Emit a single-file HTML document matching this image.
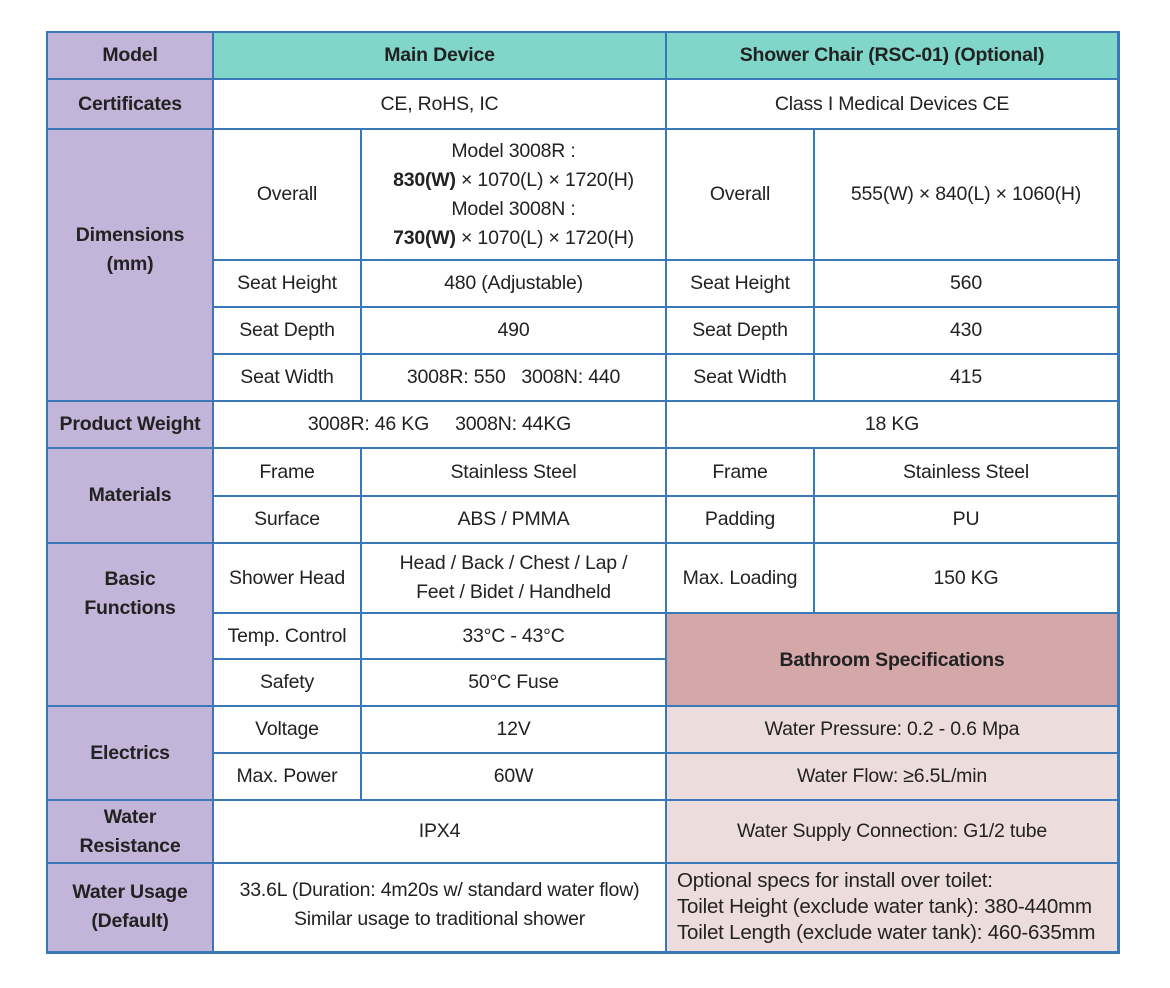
<!DOCTYPE html>
<html><head><meta charset="utf-8"><style>
body{margin:0;background:#fff;width:1170px;height:988px;position:relative;font-family:"Liberation Sans",sans-serif;color:#222}
#t{position:absolute;left:46px;top:31px;width:1074px;height:923px;background:#3b78b8}
.c{position:absolute;display:flex;align-items:center;justify-content:center;text-align:center;font-size:19.5px;line-height:29px;box-sizing:border-box;background:#fff;letter-spacing:-0.2px}
.b{font-weight:bold}
.p{background:#c3b5d9}
.g{background:#80d6c8}
.r{background:#d4a7a8}
.l{background:#eddcdc}
</style></head><body>
<div id="t"></div>
<script>
const X=[47,213,361,666,814,1118];
const cells=[
[0,1,32,79,'p b','Model'],[1,3,32,79,'g b','Main Device'],[3,5,32,79,'g b','Shower Chair (RSC-01) (Optional)'],
[0,1,79,129,'p b','Certificates'],[1,3,79,129,'','CE, RoHS, IC'],[3,5,79,129,'','Class I Medical Devices CE'],
[0,1,129,401,'p b','<div style="margin-top:-30px">Dimensions<br>(mm)</div>'],
[1,2,129,260,'','Overall'],[2,3,129,260,'','Model 3008R :<br><b>830(W)</b> × 1070(L) × 1720(H)<br>Model 3008N :<br><b>730(W)</b> × 1070(L) × 1720(H)'],
[3,4,129,260,'','Overall'],[4,5,129,260,'','555(W) × 840(L) × 1060(H)'],
[1,2,260,307,'','Seat Height'],[2,3,260,307,'','480 (Adjustable)'],[3,4,260,307,'','Seat Height'],[4,5,260,307,'','560'],
[1,2,307,354,'','Seat Depth'],[2,3,307,354,'','490'],[3,4,307,354,'','Seat Depth'],[4,5,307,354,'','430'],
[1,2,354,401,'','Seat Width'],[2,3,354,401,'','3008R: 550&nbsp;&nbsp; 3008N: 440'],[3,4,354,401,'','Seat Width'],[4,5,354,401,'','415'],
[0,1,401,448,'p b','Product Weight'],[1,3,401,448,'','3008R: 46 KG&nbsp;&nbsp;&nbsp;&nbsp; 3008N: 44KG'],[3,5,401,448,'','18 KG'],
[0,1,448,543,'p b','Materials'],
[1,2,448,496,'','Frame'],[2,3,448,496,'','Stainless Steel'],[3,4,448,496,'','Frame'],[4,5,448,496,'','Stainless Steel'],
[1,2,496,543,'','Surface'],[2,3,496,543,'','ABS / PMMA'],[3,4,496,543,'','Padding'],[4,5,496,543,'','PU'],
[0,1,543,706,'p b','<div style="margin-top:-62px">Basic<br>Functions</div>'],
[1,2,543,613,'','Shower Head'],[2,3,543,613,'','Head / Back / Chest / Lap /<br>Feet / Bidet / Handheld'],[3,4,543,613,'','Max. Loading'],[4,5,543,613,'','150 KG'],
[1,2,613,659,'','Temp. Control'],[2,3,613,659,'','33°C - 43°C'],[3,5,613,706,'r b','<div style="margin-top:2px">Bathroom Specifications</div>'],
[1,2,659,706,'','Safety'],[2,3,659,706,'','50°C Fuse'],
[0,1,706,800,'p b','Electrics'],
[1,2,706,753,'','Voltage'],[2,3,706,753,'','12V'],[3,5,706,753,'l','Water Pressure: 0.2 - 0.6 Mpa'],
[1,2,753,800,'','Max. Power'],[2,3,753,800,'','60W'],[3,5,753,800,'l','Water Flow: ≥6.5L/min'],
[0,1,800,863,'p b','Water<br>Resistance'],[1,3,800,863,'','IPX4'],[3,5,800,863,'l','Water Supply Connection: G1/2 tube'],
[0,1,863,952,'p b','<div style="margin-top:-2px">Water Usage<br>(Default)</div>'],[1,3,863,952,'','<div style="margin-top:-6px">33.6L (Duration: 4m20s w/ standard water flow)<br>Similar usage to traditional shower</div>'],
[3,5,863,952,'l','<div style="text-align:left;width:100%;padding-left:10px;line-height:26px;margin-top:-2px;font-size:20.5px">Optional specs for install over toilet:<br>Toilet Height (exclude water tank): 380-440mm<br>Toilet Length (exclude water tank): 460-635mm</div>']
];
let h='';
for(const [a,b,y1,y2,cls,txt] of cells){
 const x1=X[a]+1,x2=X[b]-1;
 h+=`<div class="c ${cls}" style="left:${x1}px;top:${y1+1}px;width:${x2-x1}px;height:${y2-y1-2}px">${txt.startsWith('<div')?txt:'<div>'+txt+'</div>'}</div>`;
}
document.body.insertAdjacentHTML('beforeend',h);
</script>
</body></html>
